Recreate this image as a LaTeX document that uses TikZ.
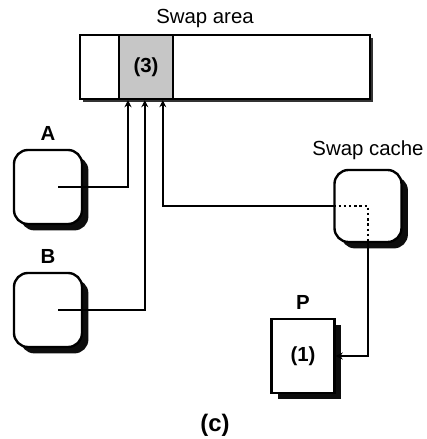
\documentclass[tikz,border=0pt]{standalone}
\usepackage{fontspec}
\setmainfont{Liberation Sans}
\usetikzlibrary{shadows,arrows.meta}

\begin{document}
\begin{tikzpicture}[x=0.025cm,y=-0.025cm,line width=1.7pt,
    >={Stealth[length=5pt,width=5pt]},
    txt/.style={font=\fontsize{14.5}{16}\selectfont},
    bold/.style={font=\fontsize{14.5}{16}\selectfont\bfseries},
    blackshadow/.style={drop shadow={shadow xshift=0.16cm,shadow yshift=-0.16cm,opacity=0.95,fill=black}},
    proc/.style={draw,fill=white,rounded corners=0.35cm,minimum width=1.7cm,minimum height=1.85cm,blackshadow},
    page/.style={draw,fill=white,minimum width=1.575cm,minimum height=1.85cm,blackshadow,bold}]
            \useasboundingbox (0,0) rectangle (426,439);

            \node[draw,fill=white,minimum width=7.25cm,minimum height=1.6cm,
                drop shadow={shadow xshift=0.08cm,shadow yshift=-0.08cm,opacity=0.8,fill=black}] (area) at (225,67) {};
            \node[draw,fill=gray!45,minimum width=1.35cm,minimum height=1.6cm,bold] (cell) at (146,67) {(3)};
            \node[txt] (arealbl) at (205,18) {Swap area};

            \node[proc] (A) at (48,187) {};
            \node[bold,above=2pt] (Albl) at (A.north) {A};
            \node[proc] (B) at (48,310) {};
            \node[bold,above=2pt] (Blbl) at (B.north) {B};
            \node[proc,minimum width=1.675cm,minimum height=1.8cm] (cache) at (368,206) {};
            \node[txt,above=2pt] (cachelbl) at (cache.north) {Swap cache};
            \node[page] (P) at (303,356) {(1)};
            \node[bold,above=2pt] (Plbl) at (P.north) {P};

            \coordinate (a1) at ([xshift=-0.45cm]cell.south);
            \coordinate (a2) at ([xshift=-0.03cm]cell.south);
            \coordinate (a3) at ([xshift=0.42cm]cell.south);

            \draw[->] ([xshift=0.25cm]A.center) -| (a1);
            \draw[->] ([xshift=0.25cm]B.center) -| (a2);
            \draw[->] (cache.west) -| (a3);
            \draw[dotted] (cache.west) -| (cache.south);
            \draw[->] (cache.south) |- (P.east);

            \node[font=\fontsize{17}{19}\selectfont\bfseries] (cap) at (215,425) {(c)};
        \end{tikzpicture}
\end{document}
